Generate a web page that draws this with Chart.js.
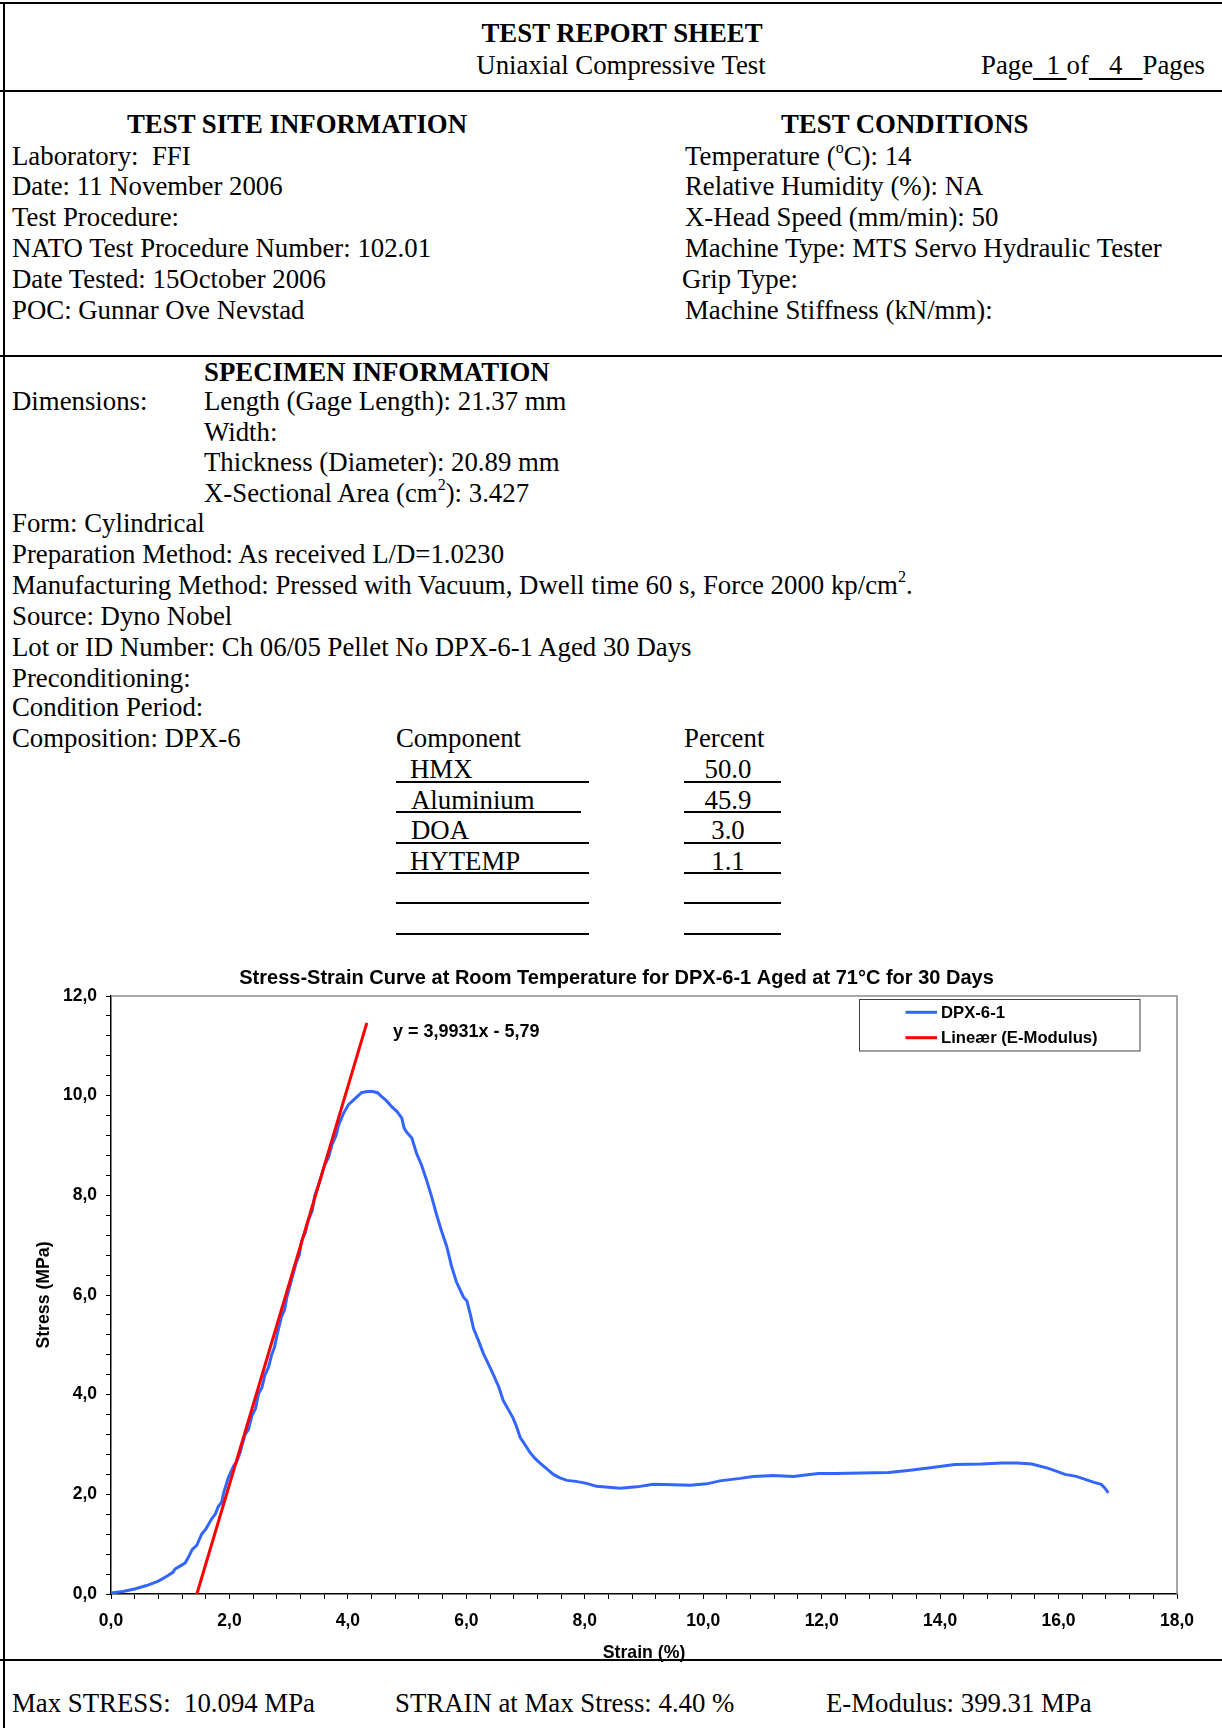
<!DOCTYPE html>
<html><head><meta charset="utf-8">
<script src="https://cdn.jsdelivr.net/npm/chart.js@4.4.0/dist/chart.umd.min.js"></script>
<style>
html,body{margin:0;padding:0;background:#fff;}
#page{position:relative;width:1222px;height:1728px;overflow:hidden;background:#fff;}
.t{position:absolute;font-family:"Liberation Serif","Times New Roman",serif;font-size:26.8px;line-height:30px;height:30px;white-space:nowrap;color:#000;}
.b{font-weight:bold;}
.c{transform:translateX(-50%);}
.hl{position:absolute;background:#000;height:2px;z-index:5;}
.vl{position:absolute;background:#000;width:2px;z-index:5;}
sup{font-size:60%;line-height:0;vertical-align:0.75em;}
u{text-decoration-thickness:2px;text-underline-offset:4px;}
#cv{position:absolute;left:0;top:960px;}
</style></head>
<body><div id="page">
<div class="hl" style="left:0;top:2px;width:1222px;"></div>
<div class="vl" style="left:3px;top:2px;height:1726px;"></div>
<div class="hl" style="left:0;top:90px;width:1222px;"></div>
<div class="hl" style="left:0;top:355px;width:1222px;"></div>
<div class="hl" style="left:0;top:1659px;width:1222px;"></div>

<div class="t b c" style="left:622px;top:18px;">TEST REPORT SHEET</div>
<div class="t c" style="left:621px;top:50px;">Uniaxial Compressive Test</div>
<div class="t" style="left:981px;top:50px;">Page<u>&nbsp;&nbsp;1&nbsp;</u>of<u>&nbsp;&nbsp;&nbsp;4&nbsp;&nbsp;&nbsp;</u>Pages</div>

<div class="t b" style="left:127px;top:109px;">TEST SITE INFORMATION</div>
<div class="t b" style="left:781px;top:109px;">TEST CONDITIONS</div>
<div class="t" style="left:12px;top:141px;">Laboratory:&nbsp; FFI</div>
<div class="t" style="left:12px;top:171px;">Date: 11 November 2006</div>
<div class="t" style="left:12px;top:202px;">Test Procedure:</div>
<div class="t" style="left:12px;top:233px;">NATO Test Procedure Number: 102.01</div>
<div class="t" style="left:12px;top:264px;">Date Tested: 15October 2006</div>
<div class="t" style="left:12px;top:295px;">POC: Gunnar Ove Nevstad</div>
<div class="t" style="left:685px;top:141px;">Temperature (<sup>o</sup>C): 14</div>
<div class="t" style="left:685px;top:171px;">Relative Humidity (%): NA</div>
<div class="t" style="left:685px;top:202px;">X-Head Speed (mm/min): 50</div>
<div class="t" style="left:685px;top:233px;">Machine Type: MTS Servo Hydraulic Tester</div>
<div class="t" style="left:682px;top:264px;">Grip Type:</div>
<div class="t" style="left:685px;top:295px;">Machine Stiffness (kN/mm):</div>

<div class="t b" style="left:204px;top:357px;">SPECIMEN INFORMATION</div>
<div class="t" style="left:12px;top:386px;">Dimensions:</div>
<div class="t" style="left:204px;top:386px;">Length (Gage Length): 21.37 mm</div>
<div class="t" style="left:204px;top:417px;">Width:</div>
<div class="t" style="left:204px;top:447px;">Thickness (Diameter): 20.89 mm</div>
<div class="t" style="left:204px;top:478px;">X-Sectional Area (cm<sup>2</sup>): 3.427</div>
<div class="t" style="left:12px;top:508px;">Form: Cylindrical</div>
<div class="t" style="left:12px;top:539px;">Preparation Method: As received L/D=1.0230</div>
<div class="t" style="left:12px;top:570px;">Manufacturing Method: Pressed with Vacuum, Dwell time 60 s, Force 2000 kp/cm<sup>2</sup>.</div>
<div class="t" style="left:12px;top:601px;">Source: Dyno Nobel</div>
<div class="t" style="left:12px;top:632px;">Lot or ID Number: Ch 06/05 Pellet No DPX-6-1 Aged 30 Days</div>
<div class="t" style="left:12px;top:663px;">Preconditioning:</div>
<div class="t" style="left:12px;top:692px;">Condition Period:</div>
<div class="t" style="left:12px;top:723px;">Composition: DPX-6</div>
<div class="t" style="left:396px;top:723px;">Component</div>
<div class="t" style="left:684px;top:723px;">Percent</div>
<div class="t" style="left:410px;top:754px;">HMX</div>
<div class="t" style="left:411px;top:785px;">Aluminium</div>
<div class="t" style="left:411px;top:815px;">DOA</div>
<div class="t" style="left:410px;top:846px;">HYTEMP</div>
<div class="t c" style="left:728px;top:754px;">50.0</div>
<div class="t c" style="left:728px;top:785px;">45.9</div>
<div class="t c" style="left:728px;top:815px;">3.0</div>
<div class="t c" style="left:728px;top:846px;">1.1</div>
<div class="hl" style="left:396px;top:781px;width:193px;"></div>
<div class="hl" style="left:396px;top:811px;width:185px;"></div>
<div class="hl" style="left:396px;top:842px;width:193px;"></div>
<div class="hl" style="left:396px;top:872px;width:193px;"></div>
<div class="hl" style="left:396px;top:902px;width:193px;"></div>
<div class="hl" style="left:396px;top:933px;width:193px;"></div>
<div class="hl" style="left:684px;top:781px;width:97px;"></div>
<div class="hl" style="left:684px;top:811px;width:97px;"></div>
<div class="hl" style="left:684px;top:842px;width:97px;"></div>
<div class="hl" style="left:684px;top:872px;width:97px;"></div>
<div class="hl" style="left:684px;top:902px;width:97px;"></div>
<div class="hl" style="left:684px;top:933px;width:97px;"></div>

<canvas id="cv" width="1222" height="706"></canvas>

<div class="t" style="left:12px;top:1688px;">Max STRESS:&nbsp; 10.094 MPa</div>
<div class="t" style="left:395px;top:1688px;">STRAIN at Max Stress: 4.40 %</div>
<div class="t" style="left:826px;top:1688px;">E-Modulus: 399.31 MPa</div>
</div>
<script>
// ---- data ----
const strainPct = [0.00, 0.20, 0.40, 0.60, 0.80, 0.95, 1.05, 1.08, 1.15, 1.25,
  1.30, 1.37, 1.45, 1.53, 1.60, 1.70, 1.76, 1.81, 1.87, 1.90,
  1.98, 2.07, 2.12, 2.18, 2.26, 2.32, 2.38, 2.44, 2.49, 2.55,
  2.60, 2.66, 2.71, 2.76, 2.80, 2.88, 2.93, 2.97, 3.05, 3.13,
  3.18, 3.22, 3.28, 3.33, 3.40, 3.44, 3.53, 3.61, 3.67, 3.73,
  3.80, 3.84, 3.92, 4.01, 4.12, 4.23, 4.30, 4.40, 4.50, 4.57,
  4.65, 4.74, 4.83, 4.91, 4.95, 4.99, 5.08, 5.16, 5.24, 5.33,
  5.41, 5.50, 5.58, 5.67, 5.75, 5.83, 5.95, 6.01, 6.07, 6.12,
  6.20, 6.29, 6.38, 6.46, 6.55, 6.62, 6.70, 6.79, 6.85, 6.91,
  7.00, 7.08, 7.16, 7.24, 7.35, 7.47, 7.58, 7.70, 7.85, 8.03,
  8.20, 8.40, 8.60, 8.88, 9.16, 9.50, 9.78, 10.06, 10.28, 10.62,
  10.85, 11.18, 11.52, 11.94, 12.23, 12.68, 13.13, 13.46, 13.80, 14.25,
  14.70, 15.04, 15.30, 15.55, 15.83, 16.11, 16.30, 16.45, 16.60, 16.72,
  16.78, 16.84];
const stressMPa = [0.02, 0.05, 0.10, 0.17, 0.26, 0.36, 0.44, 0.50, 0.55, 0.62,
  0.72, 0.89, 0.98, 1.20, 1.30, 1.51, 1.60, 1.75, 1.85, 2.02,
  2.33, 2.57, 2.65, 2.84, 3.19, 3.30, 3.58, 3.72, 4.01, 4.15,
  4.40, 4.55, 4.79, 4.95, 5.18, 5.57, 5.70, 5.96, 6.31, 6.66,
  6.80, 7.09, 7.25, 7.49, 7.70, 7.99, 8.30, 8.62, 8.75, 9.01,
  9.20, 9.40, 9.63, 9.82, 9.94, 10.06, 10.08, 10.09, 10.06, 9.98,
  9.90, 9.78, 9.68, 9.55, 9.35, 9.27, 9.15, 8.84, 8.62, 8.30,
  7.99, 7.60, 7.29, 6.97, 6.58, 6.27, 5.96, 5.88, 5.60, 5.33,
  5.10, 4.82, 4.60, 4.39, 4.15, 3.89, 3.72, 3.53, 3.35, 3.14,
  2.98, 2.83, 2.72, 2.63, 2.52, 2.40, 2.33, 2.28, 2.26, 2.22,
  2.16, 2.14, 2.12, 2.15, 2.20, 2.19, 2.18, 2.21, 2.27, 2.32,
  2.36, 2.38, 2.36, 2.42, 2.42, 2.43, 2.44, 2.48, 2.53, 2.60,
  2.61, 2.63, 2.63, 2.61, 2.52, 2.40, 2.36, 2.30, 2.24, 2.20,
  2.13, 2.03];
const fitStrain = [1.45, 4.32];
const fitStress = [0.00, 11.46];
const seriesNames = ['DPX-6-1', 'Lineær (E-Modulus)'];
const seriesColors = ['#3366FF', '#FF0000'];
const xMajorTicks = [0, 2, 4, 6, 8, 10, 12, 14, 16, 18];
const yMajorTicks = [0, 2, 4, 6, 8, 10, 12];
const fitEquation = 'y = 3,9931x - 5,79';
const chartTitle = 'Stress-Strain Curve at Room Temperature for DPX-6-1 Aged at 71°C for 30 Days';
const xTitle = 'Strain (%)';
const yTitle = 'Stress (MPa)';

const FONT = '"Liberation Sans", Arial, Helvetica, sans-serif';
const toPts = (xs, ys) => xs.map((x, i) => ({x: x, y: ys[i]}));
const fmtTick = majors => v => majors.some(m => Math.abs(m - v) < 1e-6) ? v.toFixed(1).replace('.', ',') : '';

const titlePlugin = {
  id: 'topTitle',
  afterDraw(chart) {
    const {ctx, chartArea: a} = chart;
    ctx.save();
    ctx.fillStyle = '#000'; ctx.font = 'bold 20px ' + FONT;
    ctx.textAlign = 'center'; ctx.textBaseline = 'middle';
    ctx.fillText(chartTitle, a.left + (a.right - a.left) * 0.4742, a.top - 17.5);
    ctx.restore();
  }
};
const framePlugin = {
  id: 'frame',
  beforeDatasetsDraw(chart) {
    const {ctx, chartArea: a} = chart;
    ctx.save();
    ctx.strokeStyle = '#8a8a8a'; ctx.lineWidth = 1.5;
    ctx.beginPath(); ctx.moveTo(a.left, a.top); ctx.lineTo(a.right, a.top); ctx.lineTo(a.right, a.bottom); ctx.stroke();
    ctx.restore();
  }
};
const legendPlugin = {
  id: 'boxLegend',
  afterDraw(chart) {
    const {ctx, chartArea: a} = chart;
    const x0 = a.right - 317.5, y0 = a.top + 3.5, w = 280.5, h = 51.5;
    ctx.save();
    ctx.fillStyle = '#fff'; ctx.fillRect(x0, y0, w, h);
    ctx.strokeStyle = '#404040'; ctx.lineWidth = 1; ctx.strokeRect(x0, y0, w, h);
    chart.data.datasets.forEach((ds, i) => {
      const y = y0 + 12.8 + i * 25.4;
      ctx.strokeStyle = ds.borderColor; ctx.lineWidth = 3;
      ctx.beginPath(); ctx.moveTo(x0 + 46, y); ctx.lineTo(x0 + 77.5, y); ctx.stroke();
      ctx.fillStyle = '#000'; ctx.font = 'bold 16.7px ' + FONT;
      ctx.textAlign = 'left'; ctx.textBaseline = 'middle';
      ctx.fillText(ds.label, x0 + 81.5, y + 1);
    });
    ctx.restore();
  }
};
const equationPlugin = {
  id: 'eq',
  afterDatasetsDraw(chart) {
    const {ctx} = chart;
    const xs = chart.scales.x, ys = chart.scales.y;
    ctx.save();
    ctx.fillStyle = '#000'; ctx.font = 'bold 18px ' + FONT;
    ctx.textAlign = 'left'; ctx.textBaseline = 'middle';
    ctx.fillText(fitEquation, xs.getPixelForValue(4.76), ys.getPixelForValue(11.28));
    ctx.restore();
  }
};

new Chart(document.getElementById('cv'), {
  type: 'scatter',
  data: {
    datasets: [
      {label: seriesNames[0], data: toPts(strainPct, stressMPa), showLine: true, borderColor: seriesColors[0], backgroundColor: seriesColors[0], borderWidth: 3, pointRadius: 0, tension: 0, order: 2},
      {label: seriesNames[1], data: toPts(fitStrain, fitStress), showLine: true, borderColor: seriesColors[1], backgroundColor: seriesColors[1], borderWidth: 3, pointRadius: 0, tension: 0, order: 1}
    ]
  },
  options: {
    responsive: false, animation: false, devicePixelRatio: 1, events: [],
    layout: {padding: {left: 0, right: 45, top: 36, bottom: 0}},
    plugins: {
      legend: {display: false}, tooltip: {enabled: false}, title: {display: false}
    },
    scales: {
      x: {
        type: 'linear', min: 0, max: 18,
        afterFit: s => { s.height = 72; },
        grid: {drawOnChartArea: false, drawTicks: true, tickLength: 5, color: '#000', lineWidth: 1},
        border: {display: true, color: '#000', width: 1.5},
        ticks: {stepSize: 0.4, autoSkip: false, maxRotation: 0, padding: 12, color: '#000', font: {family: FONT, size: 17.5, weight: 'bold'}, callback: fmtTick(xMajorTicks)},
        title: {display: true, text: xTitle, color: '#000', font: {family: FONT, size: 17.7, weight: 'bold'}, padding: {top: 0, bottom: 2.5}}
      },
      y: {
        type: 'linear', min: 0, max: 12,
        afterFit: s => { s.width = 111; },
        grid: {drawOnChartArea: false, drawTicks: true, tickLength: 5, color: '#000', lineWidth: 1},
        border: {display: true, color: '#000', width: 1.5},
        ticks: {stepSize: 0.4, autoSkip: false, padding: 9, color: '#000', font: {family: FONT, size: 17.5, weight: 'bold'}, callback: fmtTick(yMajorTicks)},
        title: {display: true, text: yTitle, color: '#000', font: {family: FONT, size: 17.7, weight: 'bold'}, padding: {top: 33.4, bottom: 0}}
      }
    }
  },
  plugins: [framePlugin, legendPlugin, equationPlugin, titlePlugin]
});
</script>
</body></html>
